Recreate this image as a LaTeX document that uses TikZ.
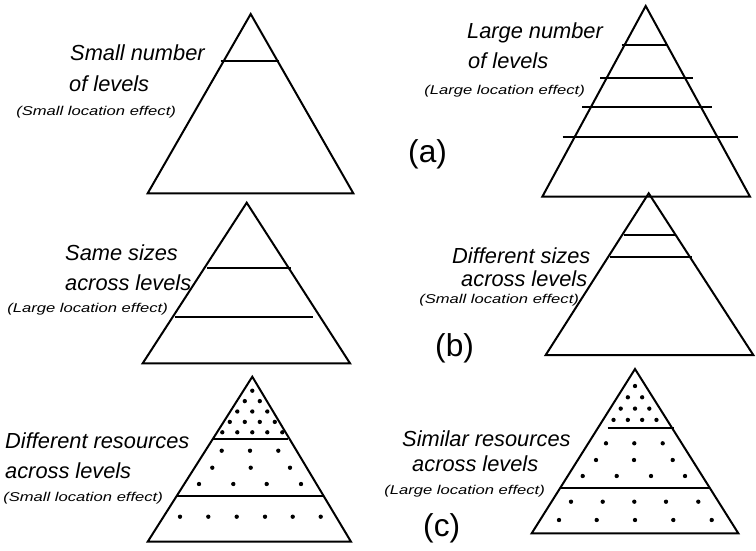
\documentclass[tikz,border=0pt]{standalone}
\usepackage{fontspec}
\setmainfont{Liberation Sans}

\begin{document}
\begin{tikzpicture}[x=0.03cm, y=-0.03cm,
  pyr/.style={draw, line width=1.7pt, line join=miter},
  lvl/.style={line width=1.6pt},
  big/.style={anchor=base west, inner sep=0pt, font=\fontsize{18.6}{20}\selectfont\itshape},
  note/.style={anchor=base west, inner sep=0pt, xscale=1.3, font=\fontsize{10.9}{12}\selectfont\itshape},
  tag/.style={anchor=base west, inner sep=0pt, font=\fontsize{27}{30}\selectfont},
  dotr/.style={radius=1.85pt}]
\useasboundingbox (0,0) rectangle (756,550);

% (a) number of levels
\draw[pyr] (250.7,14) -- (353.3,193.3) -- (147.7,193.3) -- cycle;
\draw[lvl] (220.7,61) -- (279.3,61);
\node[big] (smallnum) at (70,60) {Small number};
\node[big] (smallnumlev) at (69,91.5) {of levels};
\node[note] (smallnumnote) at (16,115) {(Small location effect)};

\draw[pyr] (645.7,6) -- (750,196.7) -- (542.3,196.7) -- cycle;
\draw[lvl] (621.7,45) -- (668,45);
\draw[lvl] (600,77.7) -- (693.3,77.7);
\draw[lvl] (582.3,106.7) -- (711.7,106.7);
\draw[lvl] (562.7,136.7) -- (738.3,136.7);
\node[big] (largenum) at (467,38.5) {Large number};
\node[big] (largenumlev) at (468,68) {of levels};
\node[note] (largenumnote) at (424,94) {(Large location effect)};
\node[tag] (taga) at (408,162) {(a)};

% (b) sizes of levels
\draw[pyr] (246.7,202.7) -- (350,363.3) -- (142.7,363.3) -- cycle;
\draw[lvl] (207.3,267.7) -- (291,267.7);
\draw[lvl] (175,316.7) -- (313.3,316.7);
\node[big] (samesz) at (65,260) {Same sizes};
\node[big] (sameszlev) at (65,290) {across levels};
\node[note] (sameszonte) at (7,312.5) {(Large location effect)};

\draw[pyr] (648.7,193.3) -- (753.3,355) -- (545.7,355) -- cycle;
\draw[lvl] (624.3,235) -- (675,235);
\draw[lvl] (610,257.3) -- (691.7,257.3);
\node[big] (diffsz) at (452,263) {Different sizes};
\node[big] (diffszlev) at (461,286.5) {across levels};
\node[note] (diffsznote) at (419,303) {(Small location effect)};
\node[tag] (tagb) at (435,356) {(b)};

% (c) resources across levels
\draw[pyr] (252.3,376.7) -- (351,541.7) -- (147.7,541.7) -- cycle;
\draw[lvl] (213.3,439) -- (288.3,439);
\draw[lvl] (177.3,496) -- (322.7,496);
\foreach \r in {0,...,4}
  \foreach \i in {0,...,\r}
    \fill (252.3+15*\i-7.5*\r, 390.7+10.4*\r) circle[dotr];
\foreach \x/\y in {221.7/450.7, 250/450.7, 278.3/450.7,
                   212.3/467.7, 250.7/467.7, 290/467.7,
                   199/484, 233.3/484, 266.7/484, 301/484,
                   180/516.7, 208.3/516.7, 236.7/516.7, 265/516.7, 292.7/516.7, 320.7/516.7}
  \fill (\x,\y) circle[dotr];
\node[big] (diffres) at (5,448) {Different resources};
\node[big] (diffreslev) at (5,478) {across levels};
\node[note] (diffresnote) at (3,501) {(Small location effect)};

\draw[pyr] (635,369) -- (738.3,533.3) -- (531.7,533.3) -- cycle;
\draw[lvl] (607.7,428.3) -- (674,428.3);
\draw[lvl] (560,487.7) -- (709,487.7);
\foreach \r in {0,...,3}
  \foreach \i in {0,...,\r}
    \fill (635+14.3*\i-7.15*\r, 386+11.3*\r) circle[dotr];
\foreach \x/\y in {606/443.3, 634.3/443.3, 662.7/443.3,
                   596/460, 634/460, 672.7/460,
                   582.7/476, 616.7/476, 651/476, 685/476,
                   571/501.7, 602.7/501.7, 634.3/501.7, 666/501.7, 698.3/501.7,
                   559/520, 596.7/520, 635/520, 673.3/520, 711.7/520}
  \fill (\x,\y) circle[dotr];
\node[big] (simres) at (402,446) {Similar resources};
\node[big] (simreslev) at (412,471) {across levels};
\node[note] (simresnote) at (384,494) {(Large location effect)};
\node[tag] (tagc) at (423,536) {(c)};
\end{tikzpicture}
\end{document}
